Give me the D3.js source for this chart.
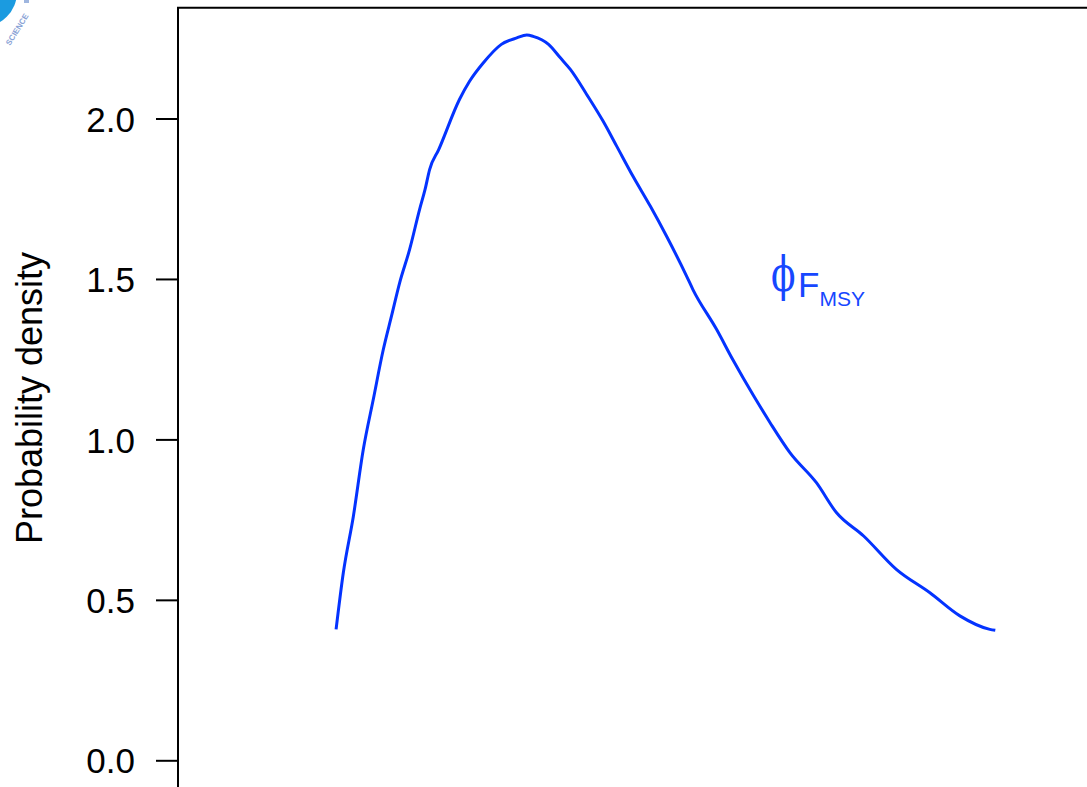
<!DOCTYPE html>
<html>
<head>
<meta charset="utf-8">
<script src="https://cdn.jsdelivr.net/npm/d3@7"></script>
<style>
  html, body { margin: 0; padding: 0; background: #fff; }
  svg { display: block; }
</style>
</head>
<body>
<svg width="1087" height="787"></svg>
<script>
// density curve for phi at F_MSY (x in relative units, x axis not shown)
var phiValues = [0.173, 0.181, 0.192, 0.203, 0.214, 0.225, 0.234, 0.243, 0.254, 0.265, 0.271, 0.276,
    0.286, 0.309, 0.320, 0.335, 0.355, 0.372, 0.383, 0.390, 0.407, 0.420, 0.431, 0.449, 0.467,
    0.482, 0.500, 0.519, 0.537, 0.559, 0.566, 0.592, 0.610, 0.633, 0.651, 0.673, 0.702, 0.724,
    0.754, 0.790, 0.827, 0.860, 0.893, 0.899];
var densityValues = [0.408, 0.585, 0.760, 0.969, 1.125, 1.280, 1.384, 1.488, 1.592, 1.717, 1.779, 1.841,
    1.903, 2.060, 2.116, 2.173, 2.231, 2.251, 2.260, 2.256, 2.231, 2.189, 2.153, 2.075, 1.992,
    1.914, 1.820, 1.727, 1.633, 1.509, 1.467, 1.343, 1.248, 1.135, 1.052, 0.958, 0.865, 0.772,
    0.699, 0.595, 0.522, 0.450, 0.408, 0.405];
var yTicks = [0, 0.5, 1, 1.5, 2];
var yTitle = 'Probability density';

var svg = d3.select('svg');
var blue = '#0433ff';

var x = d3.scaleLinear().domain([0, 1]).range([179, 1087]);
var y = d3.scaleLinear().domain([0, 2]).range([760.3, 118.5]);

// logo fragment in the corner
svg.append('circle')
    .attr('cx', -18).attr('cy', -8).attr('r', 35)
    .attr('fill', '#1b9be0');
svg.append('text')
    .attr('transform', 'translate(10,46) rotate(-58)')
    .attr('font-family', 'Liberation Sans, Arial, sans-serif')
    .attr('font-size', 8)
    .attr('font-weight', 'bold')
    .attr('fill', '#8aa3d6')
    .text('SCIENCE');
svg.append('rect')
    .attr('x', 24).attr('y', 0).attr('width', 5).attr('height', 3)
    .attr('fill', '#9fb6df');

// frame: left axis line and top border
svg.append('line')
    .attr('x1', 178).attr('x2', 178).attr('y1', 7.7).attr('y2', 787)
    .attr('stroke', '#000').attr('stroke-width', 2);
svg.append('line')
    .attr('x1', 177).attr('x2', 1087).attr('y1', 7.7).attr('y2', 7.7)
    .attr('stroke', '#000').attr('stroke-width', 2);

var yAxis = d3.axisLeft(y)
    .tickValues(yTicks)
    .tickSize(22)
    .tickPadding(21)
    .tickFormat(d3.format('.1f'));

var gy = svg.append('g')
    .attr('transform', 'translate(178,0)')
    .call(yAxis);
gy.select('.domain').remove();
gy.selectAll('.tick line').attr('stroke', '#000').attr('stroke-width', 2);
gy.selectAll('.tick text')
    .attr('fill', '#000')
    .attr('font-family', 'Liberation Sans, Arial, sans-serif')
    .attr('font-size', 35)
    .attr('dy', '0.36em');

svg.append('text')
    .attr('transform', 'translate(42,398) rotate(-90)')
    .attr('text-anchor', 'middle')
    .attr('font-family', 'Liberation Sans, Arial, sans-serif')
    .attr('font-size', 36)
    .attr('fill', '#000')
    .text(yTitle);

var line = d3.line()
    .x(function (d, i) { return x(phiValues[i]); })
    .y(function (d) { return y(d); })
    .curve(d3.curveMonotoneX);

svg.append('path')
    .datum(densityValues)
    .attr('d', line)
    .attr('fill', 'none')
    .attr('stroke', blue)
    .attr('stroke-width', 3)
    .attr('stroke-linejoin', 'round');

// curve label: phi with subscript F_MSY
var labelColor = '#1747ff';
svg.append('text')
    .attr('transform', 'translate(771,291) scale(1,1.33)')
    .attr('fill', labelColor)
    .attr('font-family', 'DejaVu Serif, Liberation Serif, serif')
    .attr('font-size', 36)
    .text('\u03D5');
var label = svg.append('text')
    .attr('x', 798)
    .attr('y', 297)
    .attr('fill', labelColor)
    .attr('font-family', 'Liberation Sans, Arial, sans-serif');
label.append('tspan')
    .attr('font-size', 35)
    .text('F');
label.append('tspan')
    .attr('font-size', 21)
    .attr('dy', 9)
    .text('MSY');
</script>
</body>
</html>
